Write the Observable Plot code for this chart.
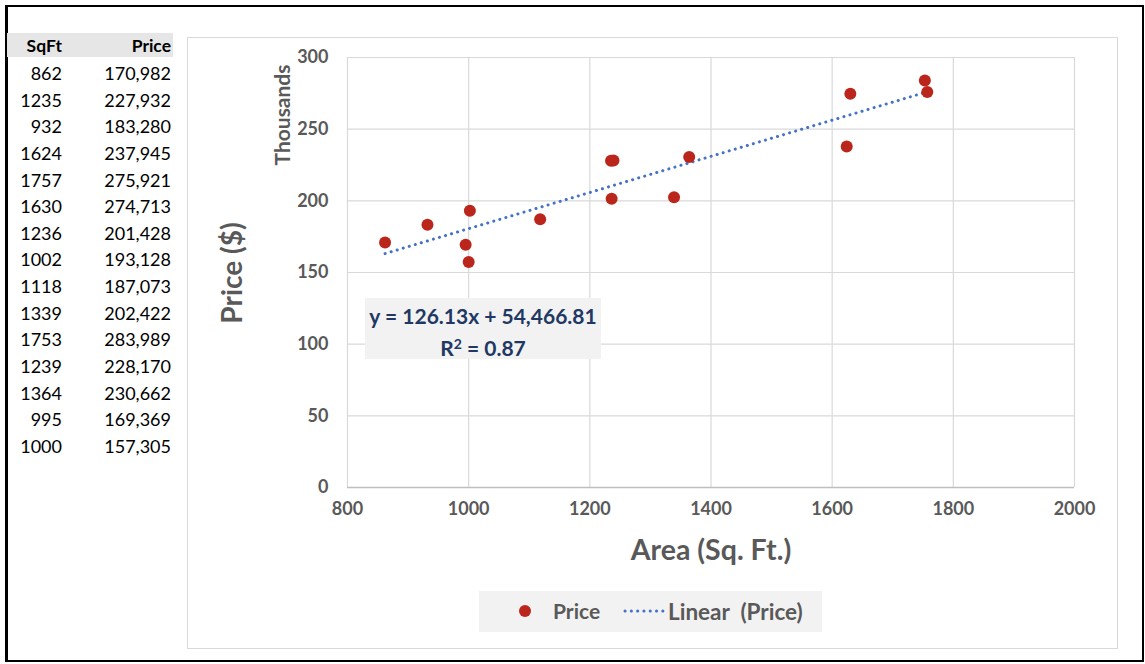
<!DOCTYPE html>
<html>
<head>
<meta charset="utf-8">
<script src="https://cdn.jsdelivr.net/npm/d3@7"></script>
<script src="https://cdn.jsdelivr.net/npm/@observablehq/plot@0.6"></script>
<style>
  html, body { margin: 0; padding: 0; background: #fff; }
  #wrap { position: relative; width: 1145px; height: 664px; overflow: hidden; font-family: Lato, "Open Sans", sans-serif; }
  #wrap svg { position: absolute; left: 0; top: 0; }
  .abs { position: absolute; }
  #outer { left: 5px; top: 5px; width: 1134px; height: 653px; border: 2px solid #000; border-left-width: 3px; }
  #chartbox { left: 187px; top: 37px; width: 929px; height: 610px; border: 1px solid #d9d9d9; }
  #thead { left: 7px; top: 33px; width: 166px; height: 24px; background: #e7e6e6; }
  .cell { position: absolute; font-size: 18px; color: #000; text-align: right; line-height: 20px; }
  .hd { font-weight: bold; font-size: 17.5px; }
  .axt { color: #595959; font-weight: bold; white-space: nowrap; }
  #eq { left: 365px; top: 298px; width: 236px; height: 61px; background: #f2f2f2; color: #1f3864; font-weight: bold; font-size: 21px; text-align: center; line-height: 28px; padding-top: 4px; box-sizing: border-box; }
  #legend { left: 479px; top: 591px; width: 343px; height: 41px; background: #f2f2f2; }
</style>
</head>
<body>
<div id="wrap"></div>
<script>
// Data
const sqft = [862, 1235, 932, 1624, 1757, 1630, 1236, 1002, 1118, 1339, 1753, 1239, 1364, 995, 1000];
const price = [170982, 227932, 183280, 237945, 275921, 274713, 201428, 193128, 187073, 202422, 283989, 228170, 230662, 169369, 157305];
const xTicks = [800, 1000, 1200, 1400, 1600, 1800, 2000];
const yTicks = [0, 50, 100, 150, 200, 250, 300];
const tableHeaders = ["SqFt", "Price"];
const equationText = "y = 126.13x + 54,466.81";
const r2Text = "R² = 0.87";
const xLabel = "Area (Sq. Ft.)";
const yLabel = "Price ($)";
const yUnit = "Thousands";
const legendLabels = ["Price", "Linear  (Price)"];

const rows = sqft.map((s, i) => ({ sqft: s, price: price[i] }));
const wrap = document.getElementById("wrap");

function add(cls, id, html, style) {
  const d = document.createElement("div");
  d.className = cls;
  if (id) d.id = id;
  if (html != null) d.innerHTML = html;
  if (style) Object.assign(d.style, style);
  wrap.appendChild(d);
  return d;
}

add("abs", "outer");
add("abs", "chartbox");
add("abs", "thead");

// table
add("cell hd", null, tableHeaders[0], { left: "7px", width: "55px", top: "36px" });
add("cell hd", null, tableHeaders[1], { left: "80px", width: "91px", top: "36px" });
const fmt = d3.format(",");
rows.forEach((r, i) => {
  const top = 63 + i * 26.64;
  add("cell", null, String(r.sqft), { left: "7px", width: "55px", top: top + "px" });
  add("cell", null, fmt(r.price), { left: "80px", width: "91px", top: top + "px" });
});

const red = "#bb261c";
const blue = "#4472c4";

const chart = Plot.plot({
  width: 1145,
  height: 664,
  marginLeft: 347,
  marginRight: 71,
  marginTop: 57,
  marginBottom: 177,
  style: { fontFamily: "Lato, 'Open Sans', sans-serif", fontSize: "18px", fontWeight: "bold", color: "#595959", background: "transparent" },
  x: { domain: [800, 2000], ticks: xTicks, label: null },
  y: { domain: [0, 300], ticks: yTicks, label: null },
  marks: [
    Plot.gridX(xTicks, { stroke: "#d9d9d9", strokeOpacity: 1, strokeWidth: 1.2 }),
    Plot.gridY(yTicks, { stroke: "#d9d9d9", strokeOpacity: 1, strokeWidth: 1.2 }),
    Plot.ruleY([0], { stroke: "#bfbfbf", strokeWidth: 1.5 }),
    Plot.axisX(xTicks, { tickSize: 0, tickPadding: 15, tickFormat: d3.format("d"), fill: "#595959", fontWeight: "bold", fontSize: 18 }),
    Plot.axisY(yTicks, { tickSize: 0, tickPadding: 19, tickFormat: d3.format("d"), fill: "#595959", fontWeight: "bold", fontSize: 18 }),
    Plot.linearRegressionY(rows, { x: "sqft", y: d => d.price / 1000, stroke: blue, strokeWidth: 3, strokeDasharray: "0.1,6.2", strokeLinecap: "round", ci: 0 }),
    Plot.dot(rows, { x: "sqft", y: d => d.price / 1000, r: 6, fill: red, stroke: "none" })
  ]
});
wrap.appendChild(chart);

// axis titles
add("abs axt", null, xLabel, { left: "711px", top: "532px", fontSize: "28.5px", transform: "translateX(-50%)" });
add("abs axt", null, yLabel, { left: "231px", top: "273px", fontSize: "28px", transform: "translate(-50%,-50%) rotate(-90deg)" });
add("abs axt", null, yUnit, { left: "281px", top: "115px", fontSize: "21px", transform: "translate(-50%,-50%) rotate(-90deg)" });

// equation box
add("abs", "eq", equationText + "<br>" + r2Text.replace("²", "<span style='font-size:14px;vertical-align:7px'>2</span>"));

// legend
const lg = add("abs", "legend");
const ns = "http://www.w3.org/2000/svg";
const ls = document.createElementNS(ns, "svg");
ls.setAttribute("width", 343); ls.setAttribute("height", 41);
ls.style.position = "absolute"; ls.style.left = "0"; ls.style.top = "0";
ls.innerHTML = `<circle cx="46" cy="20" r="6" fill="${red}"/>
<line x1="146" y1="20" x2="188" y2="20" stroke="${blue}" stroke-width="3" stroke-dasharray="0.1,6.2" stroke-linecap="round"/>`;
lg.appendChild(ls);
add("abs axt", null, legendLabels[0], { left: "553px", top: "598px", fontSize: "21px" });
add("abs axt", null, legendLabels[1].replace("  ", "&nbsp;&nbsp;"), { left: "668px", top: "598px", fontSize: "22.5px" });
</script>
</body>
</html>
